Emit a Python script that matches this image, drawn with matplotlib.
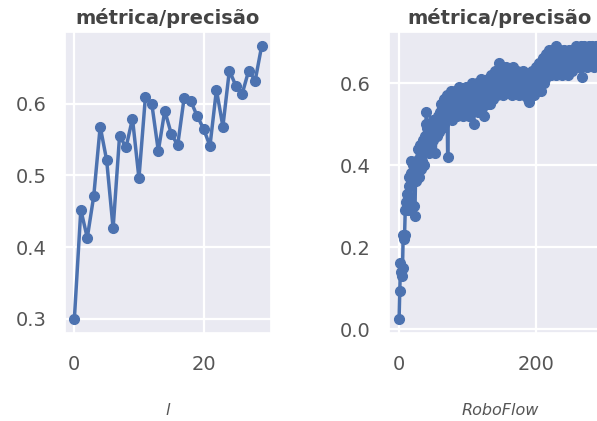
import matplotlib
matplotlib.use('Agg')
import matplotlib.pyplot as plt
import seaborn as sns

# ==========================================
# Dados: métrica/precisão por época
# ==========================================

epocas_l = list(range(30))
precisao_l = [
    0.300, 0.452, 0.413, 0.471, 0.568, 0.521, 0.426, 0.555, 0.539, 0.579,
    0.496, 0.609, 0.599, 0.534, 0.590, 0.558, 0.542, 0.608, 0.604, 0.583,
    0.565, 0.541, 0.619, 0.568, 0.646, 0.625, 0.614, 0.646, 0.632, 0.680,
]

precisao_roboflow = [
    0.025, 0.094, 0.160, 0.140, 0.130, 0.150, 0.230, 0.220, 0.230, 0.290,
    0.310, 0.300, 0.330, 0.290, 0.370, 0.350, 0.320, 0.380, 0.410, 0.360,
    0.400, 0.370, 0.300, 0.275, 0.360, 0.410, 0.380, 0.440, 0.400, 0.370,
    0.420, 0.450, 0.390, 0.430, 0.410, 0.460, 0.440, 0.400, 0.470, 0.500,
    0.530, 0.490, 0.450, 0.480, 0.430, 0.500, 0.470, 0.440, 0.490, 0.510,
    0.460, 0.500, 0.480, 0.430, 0.510, 0.490, 0.470, 0.520, 0.500, 0.480,
    0.530, 0.550, 0.490, 0.520, 0.540, 0.500, 0.560, 0.530, 0.510, 0.550,
    0.570, 0.420, 0.540, 0.520, 0.560, 0.530, 0.580, 0.550, 0.510, 0.540,
    0.550, 0.580, 0.530, 0.560, 0.520, 0.570, 0.540, 0.590, 0.550, 0.530,
    0.560, 0.540, 0.580, 0.520, 0.550, 0.570, 0.530, 0.560, 0.590, 0.540,
    0.570, 0.550, 0.520, 0.580, 0.560, 0.540, 0.600, 0.570, 0.550, 0.500,
    0.560, 0.580, 0.540, 0.570, 0.600, 0.550, 0.530, 0.580, 0.560, 0.610,
    0.570, 0.540, 0.590, 0.560, 0.520, 0.580, 0.600, 0.570, 0.550, 0.590,
    0.610, 0.570, 0.580, 0.550, 0.600, 0.620, 0.580, 0.560, 0.610, 0.590,
    0.630, 0.580, 0.600, 0.570, 0.610, 0.590, 0.650, 0.600, 0.580, 0.620,
    0.590, 0.610, 0.570, 0.630, 0.600, 0.580, 0.620, 0.640, 0.590, 0.610,
    0.580, 0.620, 0.600, 0.630, 0.590, 0.570, 0.610, 0.640, 0.600, 0.580,
    0.620, 0.600, 0.630, 0.590, 0.610, 0.570, 0.600, 0.620, 0.580, 0.610,
    0.590, 0.630, 0.600, 0.570, 0.610, 0.580, 0.620, 0.590, 0.560, 0.600,
    0.555, 0.590, 0.620, 0.580, 0.610, 0.630, 0.590, 0.570, 0.620, 0.600,
    0.640, 0.610, 0.590, 0.630, 0.600, 0.650, 0.620, 0.580, 0.630, 0.610,
    0.660, 0.620, 0.600, 0.640, 0.610, 0.670, 0.630, 0.650, 0.620, 0.680,
    0.640, 0.660, 0.620, 0.670, 0.630, 0.650, 0.680, 0.640, 0.660, 0.620,
    0.690, 0.650, 0.670, 0.630, 0.660, 0.680, 0.640, 0.660, 0.620, 0.670,
    0.650, 0.680, 0.630, 0.660, 0.640, 0.670, 0.650, 0.620, 0.660, 0.680,
    0.640, 0.670, 0.650, 0.630, 0.680, 0.660, 0.640, 0.670, 0.650, 0.690,
    0.660, 0.670, 0.680, 0.640, 0.670, 0.650, 0.690, 0.660, 0.615, 0.680,
    0.660, 0.690, 0.650, 0.670, 0.640, 0.680, 0.660, 0.690, 0.650, 0.670,
    0.680, 0.650, 0.690, 0.660, 0.670, 0.640, 0.680, 0.660, 0.690, 0.650,
    0.670, 0.690, 0.660, 0.680, 0.650, 0.670,
]
epocas_r = list(range(len(precisao_roboflow)))

titulo = 'métrica/precisão'
rotulos_x = ['l', 'RoboFlow']

# ==========================================
# Gráfico
# ==========================================

sns.set_theme(style='darkgrid')
plt.rcParams['font.family'] = ['DejaVu Sans']

cor = '#4c72b0'
fig = plt.figure(figsize=(5.97, 4.21), dpi=100)

ax1 = fig.add_axes([65 / 597, 88.5 / 421, 206 / 597, 300 / 421])
ax2 = fig.add_axes([389 / 597, 88.5 / 421, 222 / 597, 300 / 421])

series = [(ax1, epocas_l, precisao_l), (ax2, epocas_r, precisao_roboflow)]

for (ax, x, y), rotulo in zip(series, rotulos_x):
    ax.plot(x, y, color=cor, marker='o', markersize=7, linewidth=2.5)
    ax.set_title(titulo, fontsize=14, fontweight='bold', color='#444444', pad=6)
    ax.set_xlabel(rotulo, fontsize=11.5, style='italic', color='#555555', labelpad=21)
    ax.tick_params(axis='both', length=0)
    ax.tick_params(axis='y', labelsize=14, labelcolor='#555555', pad=13)
    ax.tick_params(axis='x', labelsize=14, labelcolor='#555555', pad=16)
    ax.grid(True, color='white', linewidth=1.6)

ax1.set_yticks([0.3, 0.4, 0.5, 0.6])
ax1.set_xticks([0, 20])
ax2.set_yticks([0.0, 0.2, 0.4, 0.6])
ax2.set_xticks([0, 200])

plt.savefig('out.png', dpi=100)
